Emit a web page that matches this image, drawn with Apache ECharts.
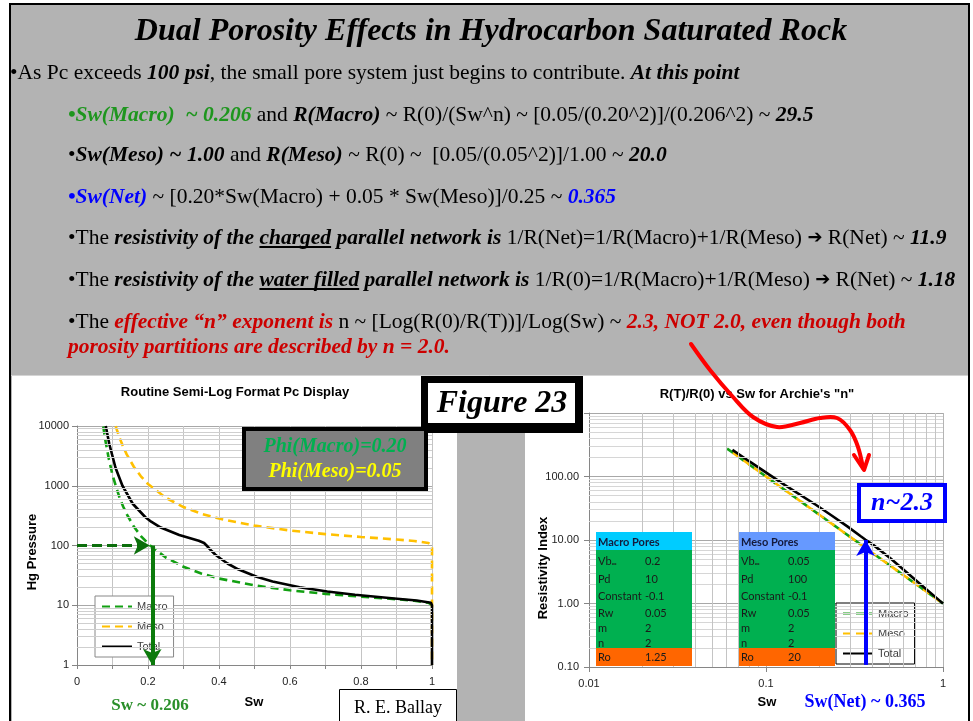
<!DOCTYPE html>
<html>
<head>
<meta charset="utf-8">
<script src="https://cdn.jsdelivr.net/npm/echarts@6/dist/echarts.min.js"></script>
<style>
html, body { margin: 0; padding: 0; background: #fff; }
#Slide { width: 973px; height: 721px; }
</style>
</head>
<body>
<div id="Slide"></div>
<script>
// Pc curves: [Sw, Hg pressure]
const pcMacro = [[0.074, 9800], [0.08, 5700], [0.09, 2750], [0.1, 1520], [0.11, 960], [0.12, 630], [0.13, 450],
  [0.14, 335], [0.16, 208], [0.18, 144], [0.206, 100], [0.25, 63], [0.3, 44], [0.35, 34], [0.4, 28], [0.5, 21.5],
  [0.6, 17.8], [0.7, 15.5], [0.8, 13.9], [0.9, 12.6], [0.95, 11.9], [0.99, 11], [1.0, 10]]
const pcMeso = [[0.109, 9900], [0.12, 6300], [0.13, 4500], [0.14, 3350], [0.16, 2080], [0.18, 1440], [0.2, 1070],
  [0.25, 630], [0.3, 440], [0.35, 340], [0.4, 282], [0.5, 215], [0.6, 178], [0.7, 155], [0.8, 139], [0.9, 126],
  [0.95, 119], [0.99, 110], [1.0, 100], [1.0, 1]]
const pcTotal = [[0.081, 10000], [0.091, 5000], [0.1085, 2000], [0.128, 1000], [0.157, 500], [0.192, 300],
  [0.209, 250], [0.236, 200], [0.288, 150], [0.343, 120], [0.358, 110], [0.365, 100], [0.38, 80], [0.39, 70],
  [0.405, 60], [0.424, 50], [0.454, 40], [0.506, 30], [0.551, 25], [0.627, 20], [0.705, 17], [0.783, 15],
  [0.894, 13], [0.957, 12], [0.997, 11], [1, 10], [1, 1]]

// resistivity index: [Sw, RI]
const riMacro = [[0.0603, 275], [0.08, 156], [0.1, 100], [0.15, 44.4], [0.2, 25], [0.3, 11.1], [0.5, 4], [0.7, 2.04], [1, 1]]
const riMeso = [[0.065, 237], [0.1, 100], [0.2, 25], [0.3, 11.1], [0.5, 4], [1, 1]]
const riTotal = [[0.0646, 262], [0.081, 171], [0.0998, 116], [0.128, 73], [0.192, 35.6], [0.236, 24.1],
  [0.288, 16.4], [0.343, 11.45], [0.365, 10.1], [0.405, 8.3], [0.506, 5.1], [0.627, 3.06], [0.783, 1.79],
  [0.957, 1.11], [1, 1]]

// annotation arrows
const pcArrowH = [[0, 100], [0.205, 100]]
const pcArrowV = [[0.212, 100], [0.212, 1]]
const riArrow = [[0.365, 0.108], [0.365, 10]]

// parameter tables
const macroTable = [['Vb{s|∞}', '0.2'], ['Pd', '10'], ['Constant', '-0.1'], ['Rw', '0.05'], ['m', '2'], ['n', '2'], ['Ro', '1.25']]
const mesoTable = [['Vb{s|∞}', '0.05'], ['Pd', '100'], ['Constant', '-0.1'], ['Rw', '0.05'], ['m', '2'], ['n', '2'], ['Ro', '20']]

const serif = '"Liberation Serif", "Times New Roman", serif'
const sans = '"Liberation Sans", Arial, sans-serif'
const green = '#12a012'
const yellow = '#ffc000'
const FS = 21.5
const fN = FS + 'px ' + serif
const fBI = 'italic bold ' + FS + 'px ' + serif

const rich = {
  n: { font: fN, fill: '#000' },
  bi: { font: fBI, fill: '#000' },
  g: { font: fBI, fill: '#1e961e' },
  bl: { font: fBI, fill: '#0000ff' },
  r: { font: fBI, fill: '#cc0000' },
  ar: { font: '18px "DejaVu Sans"', fill: '#000' }
}

const textLines = [
  [10, 73, '{n|•As Pc exceeds }{bi|100 psi}{n|, the small pore system just begins to contribute. }{bi|At this point}'],
  [68, 115, '{g|•Sw(Macro)  ~ 0.206}{n| and }{bi|R(Macro)}{n| ~ R(0)/(Sw^n) ~ [0.05/(0.20^2)]/(0.206^2) ~ }{bi|29.5}'],
  [68, 155, '{n|•}{bi|Sw(Meso) ~ 1.00}{n| and }{bi|R(Meso)}{n| ~ R(0) ~  [0.05/(0.05^2)]/1.00 ~ }{bi|20.0}'],
  [68, 197, '{bl|•Sw(Net)}{n| ~ [0.20*Sw(Macro) + 0.05 * Sw(Meso)]/0.25 ~ }{bl|0.365}'],
  [68, 238, '{n|•The }{bi|resistivity of the charged parallel network is}{n| 1/R(Net)=1/R(Macro)+1/R(Meso) }{ar|➔}{n| R(Net) ~ }{bi|11.9}'],
  [68, 280, '{n|•The }{bi|resistivity of the water filled parallel network is}{n| 1/R(0)=1/R(Macro)+1/R(Meso) }{ar|➔}{n| R(Net) ~ }{bi|1.18}'],
  [68, 322, '{n|•The }{r|effective “n” exponent is}{n| n ~ [Log(R(0)/R(T))]/Log(Sw) ~ }{r|2.3, NOT 2.0, even though both}'],
  [68, 347, '{r|porosity partitions are described by n = 2.0.}']
]

// underlined words: [line y, plain prefix, bold-italic prefix, word]
const underlines = [
  [238, '•The ', 'resistivity of the ', 'charged'],
  [280, '•The ', 'resistivity of the ', 'water filled']
]

const measureCtx = document.createElement('canvas').getContext('2d')
function textWidth(font, s) {
  measureCtx.font = font
  return measureCtx.measureText(s).width
}

function minorLines(key, decades) {
  const out = []
  decades.forEach(function(d) {
    for (let k = 2; k <= 9; k++) out.push({ [key]: +(d * k).toPrecision(3) })
  })
  return out
}

function label(x, y, text, font, fill, align, extra) {
  return Object.assign({
    type: 'text', x: x, y: y, z: 100,
    style: { text: text, font: font, fill: fill || '#000', align: align || 'center', verticalAlign: 'middle' }
  }, extra || {})
}

function tableGraphics(x0, title, headColor, rows) {
  const els = []
  els.push({ type: 'rect', z: 50, shape: { x: x0, y: 532, width: 96, height: 18 }, style: { fill: headColor } })
  els.push({ type: 'rect', z: 50, shape: { x: x0, y: 550, width: 96, height: 98 }, style: { fill: '#00b050' } })
  els.push({ type: 'rect', z: 50, shape: { x: x0, y: 648, width: 96, height: 18 }, style: { fill: '#ff6600' } })
  els.push(label(x0 + 2, 542, title, 'bold 11px Lato', '#141a3c', 'left'))
  const ys = [561, 579, 596, 613, 628, 643, 657]
  rows.forEach(function(r, i) {
    els.push({
      type: 'text', z: 100, x: x0 + 2, y: ys[i],
      style: { text: r[0], font: '11px Lato', fill: '#1a1a1a', verticalAlign: 'middle',
        rich: { s: { font: '7px Lato', fill: '#1a1a1a', verticalAlign: 'bottom', padding: [6, 0, 0, 0] } } }
    })
    els.push(label(x0 + 49, ys[i], r[1], '11px Lato', '#1a1a1a', 'left'))
  })
  return els
}

const graphics = [
  // slide background and panels
  { type: 'rect', z: 0, shape: { x: 10, y: 4, width: 959, height: 730 }, style: { fill: '#b3b3b3', stroke: '#000', lineWidth: 2 } },
  { type: 'rect', z: 0, shape: { x: 12, y: 376, width: 445, height: 350 }, style: { fill: '#fff' } },
  { type: 'rect', z: 0, shape: { x: 525, y: 376, width: 443, height: 350 }, style: { fill: '#fff' } },
  { type: 'line', z: 0, shape: { x1: 11, y1: 375.5, x2: 968, y2: 375.5 }, style: { stroke: '#d4d4d4', lineWidth: 1 } },
  // slide text
  label(491, 32, 'Dual Porosity Effects in Hydrocarbon Saturated Rock', 'italic bold 32px ' + serif, '#000')
]
textLines.forEach(function(l) {
  graphics.push({ type: 'text', z: 100, x: l[0], y: l[1], style: { text: l[2], rich: rich, verticalAlign: 'middle', font: fN } })
})
underlines.forEach(function(u) {
  const x1 = 68 + textWidth(fN, u[1]) + textWidth(fBI, u[2])
  const x2 = x1 + textWidth(fBI, u[3])
  graphics.push({ type: 'line', z: 100, shape: { x1: x1, y1: u[0] + 9, x2: x2, y2: u[0] + 9 }, style: { stroke: '#000', lineWidth: 2 } })
})
graphics.push(
  // chart titles and axis names
  label(235, 392, 'Routine Semi-Log Format Pc Display', 'bold 13px ' + sans),
  label(757, 394, 'R(T)/R(0) vs Sw for Archie\'s "n"', 'bold 13px ' + sans),
  label(32, 552, 'Hg Pressure', 'bold 13px ' + sans, '#000', 'center', { rotation: Math.PI / 2 }),
  label(543, 568, 'Resistivity Index', 'bold 13px ' + sans, '#000', 'center', { rotation: Math.PI / 2 }),
  label(254, 702, 'Sw', 'bold 13px ' + sans),
  label(767, 702, 'Sw', 'bold 13px ' + sans),
  label(150, 706, 'Sw ~ 0.206', 'bold 17px ' + serif, '#2a8f2a'),
  label(865, 702, 'Sw(Net) ~ 0.365', 'bold 18px ' + serif, '#0000ff'),
  // boxes
  { type: 'rect', z: 100, shape: { x: 421, y: 376, width: 162, height: 57 }, style: { fill: '#000' } },
  { type: 'rect', z: 100, shape: { x: 428, y: 383, width: 147, height: 40 }, style: { fill: '#fff' } },
  label(502, 404, 'Figure 23', 'italic bold 32px ' + serif),
  { type: 'rect', z: 100, shape: { x: 244, y: 429, width: 182, height: 60 }, style: { fill: '#808080', stroke: '#000', lineWidth: 4 } },
  label(335, 447, 'Phi(Macro)=0.20', 'italic bold 20px ' + serif, '#00b050'),
  label(335, 472, 'Phi(Meso)=0.05', 'italic bold 20px ' + serif, '#ffff00'),
  { type: 'rect', z: 100, shape: { x: 339.5, y: 689.5, width: 117, height: 40 }, style: { fill: '#fff', stroke: '#000', lineWidth: 1 } },
  label(398, 708, 'R. E. Ballay', '18px ' + serif),
  { type: 'rect', z: 100, shape: { x: 859, y: 485, width: 86, height: 36 }, style: { fill: '#fff', stroke: '#0000ff', lineWidth: 4 } },
  label(902, 503, 'n~2.3', 'italic bold 26px ' + serif, '#0000ff'),
  // red arrow
  { type: 'polyline', z: 110, shape: { smooth: 0.35, points: [[691, 344], [710, 370], [733, 397], [753, 417], [777, 427], [800, 423], [820, 418], [837, 418], [850, 430], [858, 447], [863, 468]] },
    style: { stroke: '#ff0000', lineWidth: 4, fill: null, lineCap: 'round' } },
  { type: 'polyline', z: 110, shape: { points: [[854, 455], [864, 470], [869, 455]] }, style: { stroke: '#ff0000', lineWidth: 4, fill: null, lineJoin: 'round', lineCap: 'round' } }
)
graphics.push.apply(graphics, tableGraphics(596, 'Macro Pores', '#00ccff', macroTable))
graphics.push.apply(graphics, tableGraphics(739, 'Meso Pores', '#6699ff', mesoTable))

const axisText = { fontSize: 11, color: '#222', fontFamily: 'Liberation Sans' }

function minorSeries(xi, yi, data, color) {
  return {
    name: 'minor', type: 'line', xAxisIndex: xi, yAxisIndex: yi, data: [], z: 1,
    markLine: { silent: true, symbol: 'none', label: { show: false }, animation: false,
      lineStyle: { color: color, width: 1, type: 'solid' }, data: data }
  }
}

function curve(name, data, xi, color, dashed) {
  return {
    name: name, type: 'line', xAxisIndex: xi, yAxisIndex: xi, data: data, symbol: 'none', z: 3,
    lineStyle: { color: color, width: 2.6, type: dashed ? [8, 5] : 'solid' }, itemStyle: { color: color }
  }
}

function arrow(xi, pts, color, width, dashed) {
  return {
    name: 'arrow', type: 'line', xAxisIndex: xi, yAxisIndex: xi, data: [], z: 10,
    markLine: { silent: true, symbol: ['none', 'arrow'], symbolSize: [14, 16], label: { show: false }, animation: false,
      lineStyle: { color: color, width: width, type: dashed ? [10, 5] : 'solid' },
      data: [[{ coord: pts[0] }, { coord: pts[1] }]] }
  }
}

const legendBase = {
  data: ['Macro', 'Meso', 'Total'], orient: 'vertical', itemWidth: 30, itemHeight: 10, itemGap: 9,
  padding: [5, 6], backgroundColor: '#fff', borderWidth: 1,
  itemStyle: { opacity: 0 },
  textStyle: { fontSize: 11, color: '#404040', fontFamily: 'Liberation Sans' }
}

const option = {
  animation: false,
  grid: [
    { left: 77, top: 426, width: 355, height: 239 },
    { left: 589, top: 413, width: 354, height: 254 }
  ],
  xAxis: [
    { type: 'value', gridIndex: 0, min: 0, max: 1, interval: 0.2,
      axisLine: { lineStyle: { color: '#868686' } }, axisTick: { length: 4, lineStyle: { color: '#868686' } },
      minorTick: { show: true, splitNumber: 2, length: 4, lineStyle: { color: '#868686' } },
      splitLine: { lineStyle: { color: '#c4c4c4' } }, minorSplitLine: { show: true, lineStyle: { color: '#c4c4c4' } },
      axisLabel: Object.assign({ margin: 11 }, axisText) },
    { type: 'log', gridIndex: 1, min: 0.01, max: 1, logBase: 10,
      axisLine: { lineStyle: { color: '#868686' } }, axisTick: { length: 5, lineStyle: { color: '#868686' } },
      splitLine: { lineStyle: { color: '#b4b4b4' } },
      axisLabel: Object.assign({ margin: 11 }, axisText) }
  ],
  yAxis: [
    { type: 'log', gridIndex: 0, min: 1, max: 10000, logBase: 10,
      axisLine: { show: true, lineStyle: { color: '#868686' } }, axisTick: { show: true, length: 5, lineStyle: { color: '#868686' } },
      splitLine: { lineStyle: { color: '#a8a8a8' } },
      axisLabel: Object.assign({ margin: 8, formatter: function(v) { return String(Math.round(v)) } }, axisText) },
    { type: 'log', gridIndex: 1, min: 0.1, max: 1000, logBase: 10,
      axisLine: { show: true, lineStyle: { color: '#868686' } }, axisTick: { show: true, length: 5, lineStyle: { color: '#868686' } },
      splitLine: { lineStyle: { color: '#a8a8a8' } },
      axisLabel: Object.assign({ margin: 10, formatter: function(v) { return v.toFixed(2) } }, axisText) }
  ],
  legend: [
    Object.assign({}, legendBase, { left: 95, top: 596, borderColor: '#888' }),
    Object.assign({}, legendBase, { left: 836, top: 603, borderColor: '#000' })
  ],
  series: [
    minorSeries(0, 0, minorLines('yAxis', [1, 10, 100, 1000]), '#cfcfcf'),
    minorSeries(1, 1, minorLines('yAxis', [0.1, 1, 10, 100]), '#d6d6d6'),
    minorSeries(1, 1, minorLines('xAxis', [0.01, 0.1]), '#c4c4c4'),
    curve('Macro', pcMacro, 0, green, true),
    curve('Meso', pcMeso, 0, yellow, true),
    curve('Total', pcTotal, 0, '#000', false),
    curve('Macro', riMacro, 1, green, true),
    curve('Meso', riMeso, 1, yellow, true),
    curve('Total', riTotal, 1, '#000', false),
    arrow(0, pcArrowH, '#0b6e0b', 3, true),
    arrow(0, pcArrowV, '#0b7a0b', 4, false),
    arrow(1, riArrow, '#0000ff', 4, false)
  ],
  graphic: { elements: graphics }
}

const chart = echarts.init(document.getElementById('Slide'))
chart.setOption(option)
</script>
</body>
</html>
